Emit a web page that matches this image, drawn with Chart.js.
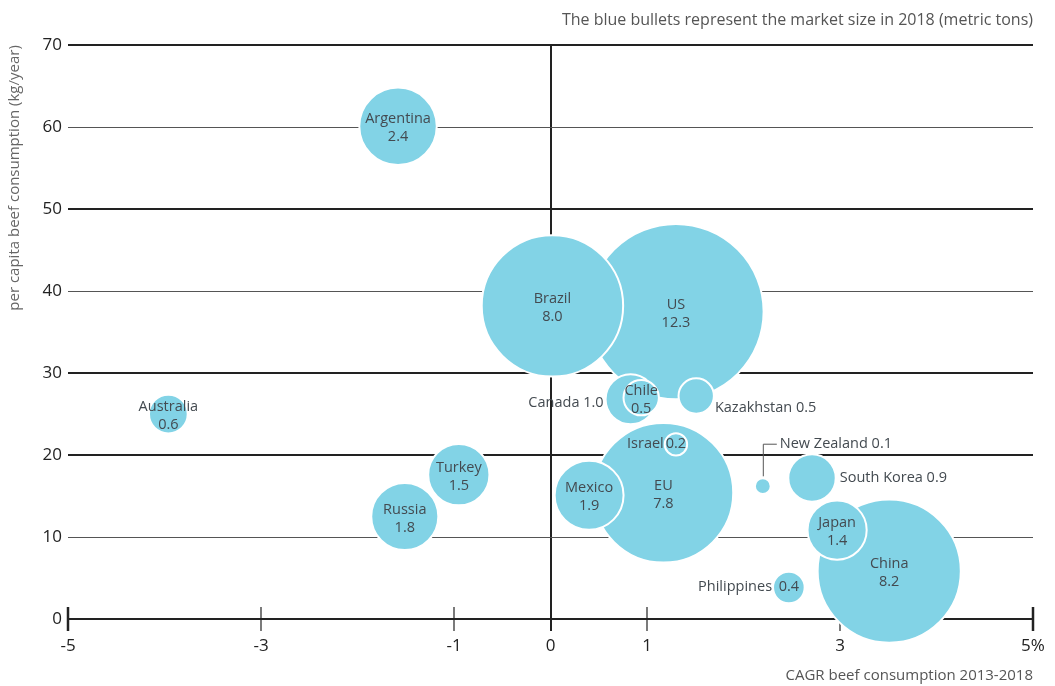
<!DOCTYPE html>
<html>
<head>
<meta charset="utf-8">
<title>Beef consumption</title>
<script src="https://cdn.jsdelivr.net/npm/chart.js@4.4.0/dist/chart.umd.min.js"></script>
<style>
    html, body { margin: 0; padding: 0; background: #fff; }
    #wrap { width: 1055px; height: 686px; }
</style>
</head>
<body>
<div id="wrap"><canvas id="myChart" width="1055" height="686"></canvas></div>
<script>
// countries in drawing order (later ones sit on top of earlier ones)
const countries = ['US', 'Brazil', 'Argentina', 'Australia', 'Canada', 'Chile', 'Kazakhstan', 'EU', 'Mexico',
    'Israel', 'Turkey', 'Russia', 'New Zealand', 'South Korea', 'China', 'Japan', 'Philippines'];
// CAGR beef consumption 2013-2018 (%)
const cagr = [1.30, 0.02, -1.58, -3.96, 0.83, 0.94, 1.51, 1.17, 0.40, 1.30, -0.95, -1.51, 2.20, 2.71, 3.51, 2.97, 2.47];
// per capita beef consumption (kg/year)
const perCapita = [37.5, 38.2, 60.1, 25.0, 26.8, 27.0, 27.2, 15.4, 15.1, 21.3, 17.6, 12.5, 16.2, 17.2, 5.85, 10.85, 3.85];
// market size 2018 (metric tons)
const marketSize = [12.3, 8.0, 2.4, 0.6, 1.0, 0.5, 0.5, 7.8, 1.9, 0.2, 1.5, 1.8, 0.1, 0.9, 8.2, 1.4, 0.4];

const xTickValues = [-5, -3, -1, 0, 1, 3, 5];
const yTickValues = [0, 10, 20, 30, 40, 50, 60, 70];
const thickLines = [0, 20, 30, 50, 70];

// where each label goes relative to its bubble
const labelPlace = ['in', 'in', 'in', 'in', 'left', 'in', 'right-low', 'in', 'in',
    'split', 'in', 'in', 'leader', 'right', 'in', 'in', 'split'];

const FONT = '"Open Sans", "Noto Sans", sans-serif';
const BUBBLE = '#82d3e6';
const TEXT = '#434a50';

const points = countries.map((c, i) => ({
    x: cagr[i],
    y: perCapita[i],
    r: 25 * Math.sqrt(marketSize[i])
}));

// tick marks crossing the x axis line
const axisTicks = {
    id: 'axisTicks',
    beforeDatasetsDraw(chart) {
        const { ctx, scales: { x, y } } = chart;
        const y0 = y.getPixelForValue(0);
        ctx.save();
        ctx.strokeStyle = '#222';
        xTickValues.forEach(v => {
            if (v === 0) return;
            const px = x.getPixelForValue(v);
            ctx.lineWidth = Math.abs(v) === 5 ? 2.5 : 1.2;
            ctx.beginPath();
            ctx.moveTo(px, y0 - 12);
            ctx.lineTo(px, y0 + 12);
            ctx.stroke();
        });
        ctx.restore();
    }
};

// country names and market sizes
const bubbleLabels = {
    id: 'bubbleLabels',
    afterDatasetsDraw(chart) {
        const { ctx } = chart;
        const meta = chart.getDatasetMeta(0);
        ctx.save();
        ctx.font = '14.5px ' + FONT;
        ctx.fillStyle = TEXT;
        ctx.textBaseline = 'middle';
        meta.data.forEach((pt, i) => {
            const { x, y } = pt.getProps(['x', 'y'], true);
            const r = pt.options.radius;
            const name = countries[i];
            const val = marketSize[i].toFixed(1);
            switch (labelPlace[i]) {
                case 'in':
                    ctx.textAlign = 'center';
                    ctx.fillText(name, x, y - 7);
                    ctx.fillText(val, x, y + 11);
                    break;
                case 'left':
                    ctx.textAlign = 'right';
                    ctx.fillText(name + ' ' + val, x - r - 2, y + 4);
                    break;
                case 'right':
                    ctx.textAlign = 'left';
                    ctx.fillText(name + ' ' + val, x + r + 4, y);
                    break;
                case 'right-low':
                    ctx.textAlign = 'left';
                    ctx.fillText(name + ' ' + val, x + r + 1, y + 12);
                    break;
                case 'split':
                    ctx.textAlign = 'right';
                    ctx.fillText(name, x - r - 1, y - 1);
                    ctx.textAlign = 'center';
                    ctx.fillText(val, x, y - 1);
                    break;
                case 'leader':
                    ctx.strokeStyle = '#555';
                    ctx.lineWidth = 1;
                    ctx.beginPath();
                    ctx.moveTo(x + 0.5, y - r - 2);
                    ctx.lineTo(x + 0.5, y - 42);
                    ctx.lineTo(x + 14, y - 42);
                    ctx.stroke();
                    ctx.textAlign = 'left';
                    ctx.fillText(name + ' ' + val, x + 17, y - 42);
                    break;
            }
        });
        ctx.restore();
    }
};

const ctx = document.getElementById('myChart').getContext('2d');
const chart = new Chart(ctx, {
    type: 'bubble',
    data: {
        datasets: [{
            label: 'Market size 2018',
            data: points,
            backgroundColor: BUBBLE,
            borderColor: '#ffffff',
            borderWidth: 2,
            hoverRadius: 0,
            clip: false
        }]
    },
    options: {
        responsive: false,
        animation: false,
        events: [],
        layout: { autoPadding: false, padding: { left: 0, right: 22, top: 0, bottom: 0 } },
        plugins: {
            legend: { display: false },
            tooltip: { enabled: false },
            title: {
                display: true,
                text: 'The blue bullets represent the market size in 2018 (metric tons)',
                align: 'end',
                color: '#555',
                font: { family: FONT, size: 16, weight: 'normal' },
                padding: { top: 11, bottom: 15 }
            }
        },
        scales: {
            x: {
                type: 'linear',
                min: -5,
                max: 5,
                afterBuildTicks: s => { s.ticks = xTickValues.map(v => ({ value: v })); },
                afterFit: s => { s.height = 67; },
                border: { display: false },
                grid: {
                    color: c => (c.tick && c.tick.value === 0) ? '#222' : 'rgba(0,0,0,0)',
                    lineWidth: 2,
                    tickLength: 12
                },
                ticks: {
                    padding: 5,
                    color: '#222',
                    font: { family: FONT, size: 17 },
                    callback: v => v === 5 ? '5%' : String(v)
                },
                title: {
                    display: true,
                    text: 'CAGR beef consumption 2013-2018',
                    align: 'end',
                    color: '#555',
                    font: { family: FONT, size: 15 },
                    padding: { top: 0, bottom: 1 }
                }
            },
            y: {
                type: 'linear',
                min: 0,
                max: 70,
                afterBuildTicks: s => { s.ticks = yTickValues.map(v => ({ value: v })); },
                afterFit: s => { s.width = 68; },
                border: { display: false },
                grid: {
                    drawTicks: false,
                    color: c => thickLines.includes(c.tick.value) ? '#222' : '#555',
                    lineWidth: c => thickLines.includes(c.tick.value) ? 2 : 1
                },
                ticks: {
                    padding: 6,
                    color: '#222',
                    font: { family: FONT, size: 17 }
                },
                title: {
                    display: true,
                    text: 'per capita beef consumption (kg/year)',
                    align: 'end',
                    color: '#666',
                    font: { family: FONT, size: 15 },
                    padding: { top: 6, bottom: 0 }
                }
            }
        }
    },
    plugins: [axisTicks, bubbleLabels]
});
</script>
</body>
</html>
